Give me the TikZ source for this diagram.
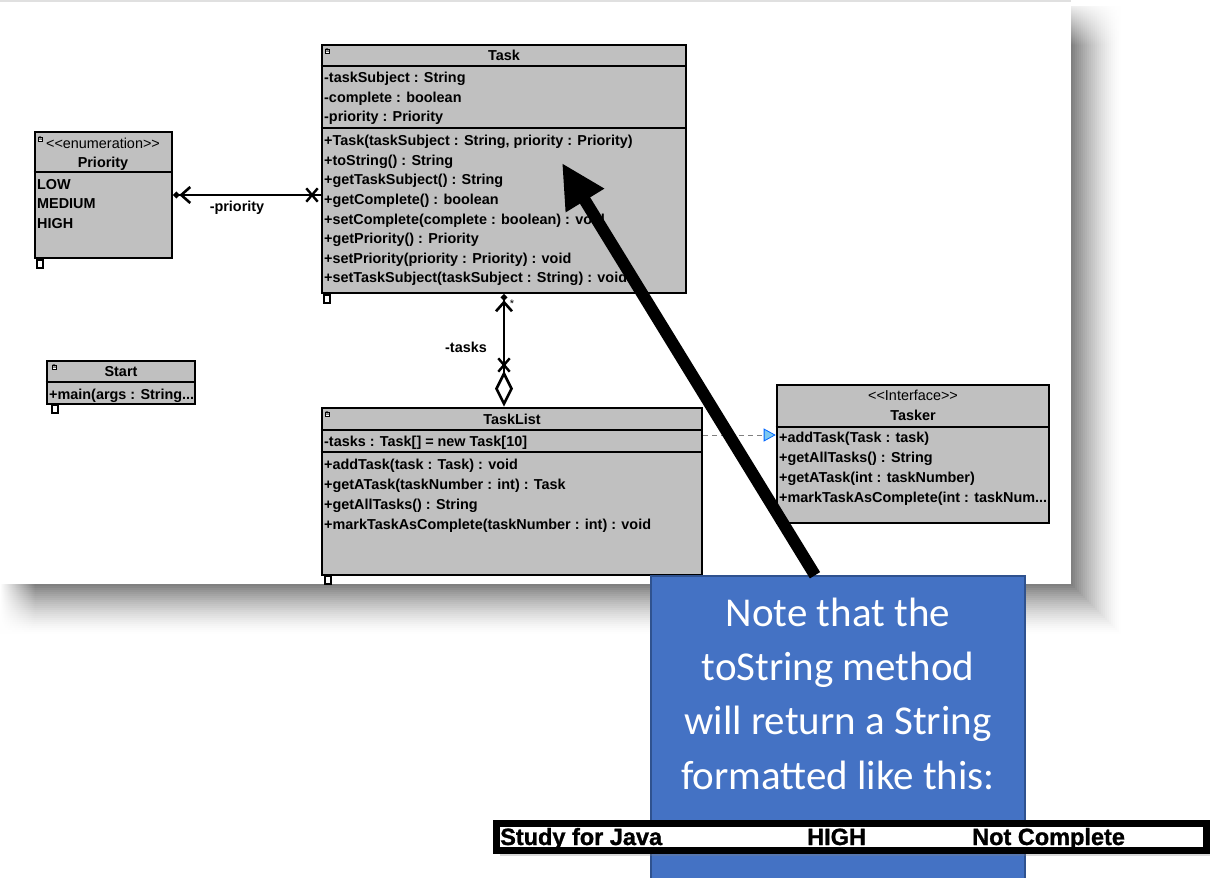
\documentclass[tikz,border=0pt]{standalone}
\usepackage{fontspec}
\setmainfont{Liberation Sans}
\newfontfamily\notefont{Carlito}
\newfontfamily\barfont{Liberation Sans Bold}[FakeBold=1.2]
\usetikzlibrary{arrows.meta,shapes.misc,shadows,fadings}
\definecolor{classgray}{RGB}{192,192,192}
\definecolor{noteblue}{RGB}{68,114,196}
\definecolor{noteedge}{RGB}{47,82,143}
\definecolor{realizeblue}{RGB}{125,200,240}

\begin{document}
\begin{tikzpicture}[x=1pt,y=-1pt,
    classbox/.style={draw, line width=2.6pt, fill=classgray, inner sep=0pt},
    member/.style={anchor=base west, inner sep=0pt, font=\fontsize{14.4}{17}\selectfont\bfseries},
    classname/.style={anchor=base, inner sep=0pt, font=\fontsize{14.4}{17}\selectfont\bfseries},
    stereo/.style={anchor=base, inner sep=0pt, font=\fontsize{14.4}{17}\selectfont},
    sepline/.style={line width=2.6pt},
    kindicon/.style={draw, line width=0.4pt, fill=white, inner sep=0.3pt, font=\fontsize{7}{7}\selectfont},
    fileicon/.style={draw, line width=1.2pt, fill=white, minimum width=6pt, minimum height=8pt, inner sep=0pt},
    assoc/.style={line width=2.6pt},
    endcross/.style={cross out, draw, line width=2.4pt, minimum width=9pt, minimum height=11pt, inner sep=0pt},
    rolelabel/.style={inner sep=0pt, font=\fontsize{14.4}{17}\selectfont\bfseries},
    notetext/.style={anchor=base, inner sep=0pt, text=white, font=\notefont\fontsize{41}{50}\selectfont},
    bartext/.style={anchor=base west, inner sep=0pt, font=\barfont\fontsize{23.5}{24}\selectfont}]

\useasboundingbox (0,0) rectangle (1224,878);
\clip (0,0) rectangle (1224,878);

% screenshot shadow, lightest ring first
\foreach \i [evaluate=\i as \g using {50*(1-\i/25)^1.5}] in {24,23,...,0}
  \fill[black!\g] (0,6) rectangle (1073+2*\i,586+2*\i);
\fill[white, path fading=south] (1071,0) rectangle (1125,45);
\fill[white, path fading=east] (0,584) rectangle (35,640);
\fill[white] (0,0) rectangle (1071,584);
\draw[black!12, line width=1.5pt] (0,1) -- (1071,1);

% Task
\node[classbox, minimum width=364pt, minimum height=248pt] (task) at (504,169) {};
\draw[sepline] (task.west |- 0,66) -- (task.east |- 0,66);
\draw[sepline] (task.west |- 0,128) -- (task.east |- 0,128);
\node[kindicon] (taskkind) at (327,51) {a};
\node[classname] (taskname) at (504,60) {Task};
\node[member] (taskattr1) at (324,82) {-taskSubject : String};
\node[member] (taskattr2) at (324,102) {-complete : boolean};
\node[member] (taskattr3) at (324,121) {-priority : Priority};
\node[member] (taskop1) at (324,145) {+Task(taskSubject : String, priority : Priority)};
\node[member] (taskop2) at (324,165) {+toString() : String};
\node[member] (taskop3) at (324,184) {+getTaskSubject() : String};
\node[member] (taskop4) at (324,204) {+getComplete() : boolean};
\node[member] (taskop5) at (324,224) {+setComplete(complete : boolean) : void};
\node[member] (taskop6) at (324,243) {+getPriority() : Priority};
\node[member] (taskop7) at (324,263) {+setPriority(priority : Priority) : void};
\node[member] (taskop8) at (324,282) {+setTaskSubject(taskSubject : String) : void};
\node[fileicon] (taskfile) at (327,299) {};

% Priority
\node[classbox, minimum width=137pt, minimum height=126pt] (priority) at (103.5,195) {};
\draw[sepline] (priority.west |- 0,172) -- (priority.east |- 0,172);
\node[kindicon] (prikind) at (40,139) {a};
\node[stereo] (pristereo) at (103,148) {<\kern0pt<enumeration>\kern0pt>};
\node[classname] (priname) at (103,167) {Priority};
\node[member] (prilow) at (37,189) {LOW};
\node[member] (primedium) at (37,208) {MEDIUM};
\node[member] (prihigh) at (37,228) {HIGH};
\node[fileicon] (prifile) at (40,264) {};

% Start
\node[classbox, minimum width=148pt, minimum height=43pt] (start) at (121,382.5) {};
\draw[sepline] (start.west |- 0,382) -- (start.east |- 0,382);
\node[kindicon] (startkind) at (54,367) {a};
\node[classname] (startname) at (121,376) {Start};
\node[member] (startop1) at (49,399) {+main(args : String...};
\node[fileicon] (startfile) at (55,409) {};

% TaskList
\node[classbox, minimum width=380pt, minimum height=167pt] (tasklist) at (512,491.5) {};
\draw[sepline] (tasklist.west |- 0,430) -- (tasklist.east |- 0,430);
\draw[sepline] (tasklist.west |- 0,452) -- (tasklist.east |- 0,452);
\node[kindicon] (listkind) at (327,414) {a};
\node[classname] (listname) at (512,424) {TaskList};
\node[member] (listattr1) at (324,446) {-tasks : Task[] = new Task[10]};
\node[member] (listop1) at (324,469) {+addTask(task : Task) : void};
\node[member] (listop2) at (324,489) {+getATask(taskNumber : int) : Task};
\node[member] (listop3) at (324,509) {+getAllTasks() : String};
\node[member] (listop4) at (324,529) {+markTaskAsComplete(taskNumber : int) : void};
\node[fileicon] (listfile) at (328,580) {};

% Tasker
\node[classbox, minimum width=272pt, minimum height=138pt] (tasker) at (913,454) {};
\draw[sepline] (tasker.west |- 0,427) -- (tasker.east |- 0,427);
\node[stereo] (taskerstereo) at (913,400) {<\kern0pt<Interface>\kern0pt>};
\node[classname] (taskername) at (913,420) {Tasker};
\node[member] (taskerop1) at (779,442) {+addTask(Task : task)};
\node[member] (taskerop2) at (779,462) {+getAllTasks() : String};
\node[member] (taskerop3) at (779,482) {+getATask(int : taskNumber)};
\node[member] (taskerop4) at (779,502) {+markTaskAsComplete(int : taskNum...};

% associations
\draw[assoc, {Circle[length=6pt] Straight Barb[length=9pt, width=16pt]}-] (priority.east) -- (priority.east -| task.west);
\node[endcross] (pricross) at (312,195) {};
\node[rolelabel] (prirole) at (237,208) {-priority};

\draw[assoc, {Diamond[open, length=36pt, width=18pt]}-{Straight Barb[length=9pt, width=16pt] Circle[length=6pt]}] (task.south |- tasklist.north) -- (task.south);
\node[endcross] (listcross) at (504,365) {};
\node[rolelabel] (listrole) at (466,347) {-tasks};
\node[inner sep=0pt, font=\fontsize{11}{11}\selectfont] (listmult) at (512,304) {*};

\draw[gray, line width=0.8pt, dash pattern=on 5pt off 4pt, -{Triangle[length=12pt, width=13pt, fill=realizeblue, color=blue!60!cyan]}] ([yshift=56.5pt]tasklist.east) -- ([yshift=19pt]tasker.west);

% note
\node[draw=noteedge, line width=1.5pt, fill=noteblue, minimum width=374pt, minimum height=330pt, inner sep=0pt] (note) at (838,741) {};
\node[notetext] (noteline1) at (838,626) {Note that the};
\node[notetext] (noteline2) at (838,680) {toString method};
\node[notetext] (noteline3) at (838,734) {will return a String};
\node[notetext] (noteline4) at (838,789) {formatted like this:};

\coordinate (tostring) at (562,163);
\draw[line width=12pt, -{Triangle[length=44pt, width=42pt]}] ([xshift=-23pt]note.north) -- (tostring);

% sample output
\node[draw, line width=7pt, fill=white, minimum width=710pt, minimum height=27pt, inner sep=0pt, drop shadow={opacity=0.3, shadow xshift=3pt, shadow yshift=-6pt}] (bar) at (851.5,836.5) {};
\node[bartext] (barsubject) at (500,845) {Study for Java};
\node[bartext] (barpriority) at (807,845) {HIGH};
\node[bartext] (barstatus) at (972,845) {Not Complete};
\end{tikzpicture}
\end{document}
